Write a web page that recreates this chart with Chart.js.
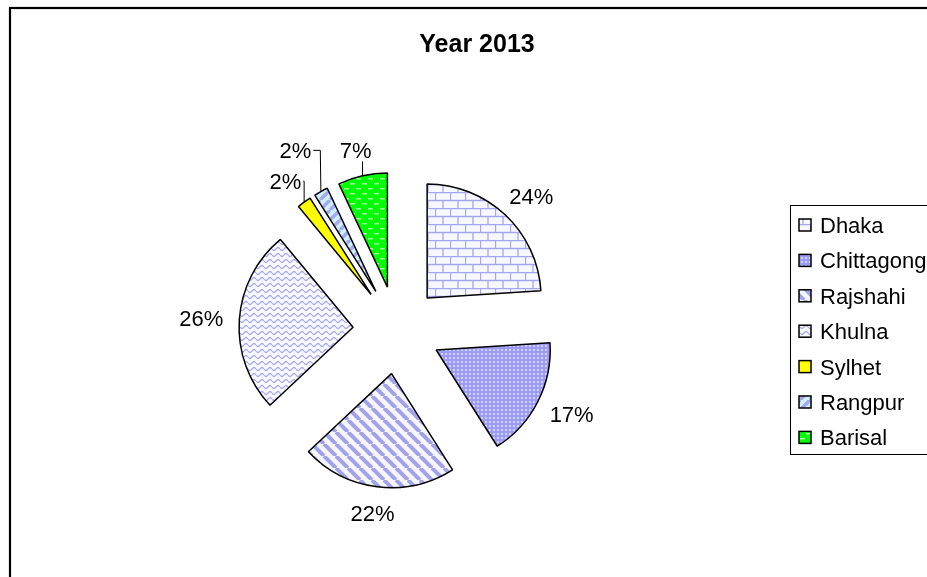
<!DOCTYPE html>
<html>
<head>
<meta charset="utf-8">
<script src="https://cdn.jsdelivr.net/npm/chart.js@4"></script>
<style>
  html, body { margin: 0; padding: 0; background: #fff; overflow: hidden; }
  canvas { display: block; }
</style>
</head>
<body>
<canvas id="pieChart" width="927" height="577"></canvas>
<script>
  // data
  const categories = ['Dhaka', 'Chittagong', 'Rajshahi', 'Khulna', 'Sylhet', 'Rangpur', 'Barisal'];
  const shares = [24, 17, 22, 26, 2, 2, 7];
  const chartTitle = 'Year 2013';

  const FONT = '"Liberation Sans", Arial, sans-serif';
  const explode = 44;

  const canvas = document.getElementById('pieChart');
  const ctx = canvas.getContext('2d');

  function makePattern(w, h, paint) {
    const c = document.createElement('canvas');
    c.width = w; c.height = h;
    const g = c.getContext('2d');
    paint(g, w, h);
    return ctx.createPattern(c, 'repeat');
  }

  // Excel-ish fill patterns
  const bricks = makePattern(15, 16, (g) => {
    g.fillStyle = '#F7F7FF'; g.fillRect(0, 0, 15, 16);
    g.strokeStyle = '#A6A6EE'; g.lineWidth = 1.3;
    g.beginPath();
    g.moveTo(0, 0.5); g.lineTo(15, 0.5);
    g.moveTo(0, 8.5); g.lineTo(15, 8.5);
    g.moveTo(0.5, 0); g.lineTo(0.5, 8.5);
    g.moveTo(8, 8.5); g.lineTo(8, 16);
    g.stroke();
  });
  const dots = makePattern(4, 4, (g) => {
    g.fillStyle = '#9C9CF6'; g.fillRect(0, 0, 4, 4);
    g.fillStyle = '#D2D2FF'; g.fillRect(1, 1, 2, 2);
  });
  const stripes = makePattern(12, 12, (g) => {
    g.fillStyle = '#F6F6FF'; g.fillRect(0, 0, 12, 12);
    g.strokeStyle = '#A2A2EA'; g.lineWidth = 4;
    g.beginPath();
    for (let x0 = -12; x0 <= 12; x0 += 12) { g.moveTo(x0, 0); g.lineTo(x0 + 12, 12); }
    g.stroke();
  });
  const waves = makePattern(8, 6, (g) => {
    g.fillStyle = '#F8F8FF'; g.fillRect(0, 0, 8, 6);
    g.strokeStyle = '#ABABE6'; g.lineWidth = 1.3;
    g.beginPath();
    for (let x = 0; x <= 8; x += 0.5) {
      const y = 3 + 1.5 * Math.sin(2 * Math.PI * x / 8);
      if (x === 0) g.moveTo(x, y); else g.lineTo(x, y);
    }
    g.stroke();
  });
  const blueDiag = makePattern(10, 10, (g) => {
    g.fillStyle = '#CCF2FF'; g.fillRect(0, 0, 10, 10);
    g.strokeStyle = '#A8A8F0'; g.lineWidth = 3.5;
    g.beginPath();
    for (let x0 = -10; x0 <= 10; x0 += 10) { g.moveTo(x0, 10); g.lineTo(x0 + 10, 0); }
    g.stroke();
  });
  const greenDash = makePattern(12, 10, (g) => {
    g.fillStyle = '#00FF00'; g.fillRect(0, 0, 12, 10);
    g.fillStyle = '#A0FFA0';
    g.fillRect(2, 3, 5, 1.5);
    g.fillRect(8, 8, 4, 1.5);
    g.fillRect(0, 8, 1, 1.5);
  });

  const fills = [bricks, dots, stripes, waves, '#FFFF00', blueDiag, greenDash];

  // pull every slice out along its mid angle
  const explodePlugin = {
    id: 'explode',
    afterUpdate(chart) {
      chart.getDatasetMeta(0).data.forEach(arc => {
        const mid = (arc.startAngle + arc.endAngle) / 2;
        arc.x += Math.cos(mid) * explode;
        arc.y += Math.sin(mid) * explode;
      });
    }
  };

  // frame, title and legend box
  const framePlugin = {
    id: 'frame',
    beforeDraw(chart) {
      const c = chart.ctx;
      c.save();
      c.fillStyle = '#fff';
      c.fillRect(0, 0, chart.width, chart.height);
      c.strokeStyle = '#000';
      c.lineWidth = 2.2;
      c.strokeRect(10, 8, 1200, 1200);
      c.fillStyle = '#000';
      c.font = 'bold 25px ' + FONT;
      c.textAlign = 'center';
      c.textBaseline = 'alphabetic';
      c.fillText(chartTitle, 477, 52);
      c.restore();
    },
    afterDraw(chart) {
      const c = chart.ctx;
      const ds = chart.data.datasets[0];
      c.save();
      c.strokeStyle = '#000';
      c.lineWidth = 1;
      c.strokeRect(790.5, 205.5, 400, 249);
      c.font = '22px ' + FONT;
      c.textAlign = 'left';
      c.textBaseline = 'alphabetic';
      chart.data.labels.forEach((lab, i) => {
        const cy = 225 + i * 35.4;
        c.fillStyle = ds.backgroundColor[i];
        c.fillRect(799, cy - 6, 12, 12);
        c.lineWidth = 1.5;
        c.strokeRect(799, cy - 6, 12, 12);
        c.fillStyle = '#000';
        c.fillText(lab, 820, cy + 8);
      });
      c.restore();
    }
  };

  // percentage labels outside the slices, leader lines for the thin ones
  const pctLabels = {
    id: 'pctLabels',
    afterDatasetsDraw(chart) {
      const c = chart.ctx;
      const meta = chart.getDatasetMeta(0);
      const vals = chart.data.datasets[0].data;
      const total = vals.reduce((a, b) => a + b, 0);
      c.save();
      c.font = '22px ' + FONT;
      c.textAlign = 'center';
      c.textBaseline = 'alphabetic';
      c.fillStyle = '#000';
      c.strokeStyle = '#000';
      c.lineWidth = 1;
      const placed = [];
      meta.data.forEach((arc, i) => {
        const txt = Math.round(vals[i] / total * 100) + '%';
        const w = c.measureText(txt).width;
        const h = 20;
        const mid = (arc.startAngle + arc.endAngle) / 2;
        const dx = Math.cos(mid), dy = Math.sin(mid);
        let d = arc.outerRadius + 16;
        let cx, cy;
        const hits = () => placed.some(b =>
          cx - w / 2 - 5 < b.r + 5 && cx + w / 2 + 5 > b.l - 5 &&
          cy - h / 2 - 5 < b.b + 5 && cy + h / 2 + 5 > b.t - 5);
        do {
          cx = arc.x + dx * d + dx * w / 2;
          cy = arc.y + dy * d + dy * h / 2;
          d += 1;
        } while (hits() && d < 400);
        const box = { l: cx - w / 2, r: cx + w / 2, t: cy - h / 2, b: cy + h / 2 };
        placed.push(box);
        c.fillText(txt, cx, cy + 8);

        if (vals[i] < 10) {
          const tx = arc.x + dx * arc.outerRadius;
          const ty = arc.y + dy * arc.outerRadius;
          c.beginPath();
          if (tx > box.r) {
            c.moveTo(box.r + 2, cy);
            const sx = Math.min(box.r + 9, tx);
            c.lineTo(sx, cy);
            c.lineTo(tx, ty);
          } else {
            const sx = Math.max(box.l, Math.min(box.r, tx));
            c.moveTo(sx, box.b + 1);
            c.lineTo(tx, ty);
          }
          c.stroke();
        }
      });
      c.restore();
    }
  };

  new Chart(canvas, {
    type: 'pie',
    data: {
      labels: categories,
      datasets: [{
        data: shares,
        backgroundColor: fills,
        borderColor: '#000',
        borderWidth: 1.5,
        radius: 114
      }]
    },
    options: {
      responsive: false,
      animation: false,
      events: [],
      layout: { padding: { left: 197, right: 330, top: 130, bottom: 47 } },
      plugins: {
        legend: { display: false },
        title: { display: false },
        tooltip: { enabled: false }
      }
    },
    plugins: [explodePlugin, framePlugin, pctLabels]
  });
</script>
</body>
</html>
